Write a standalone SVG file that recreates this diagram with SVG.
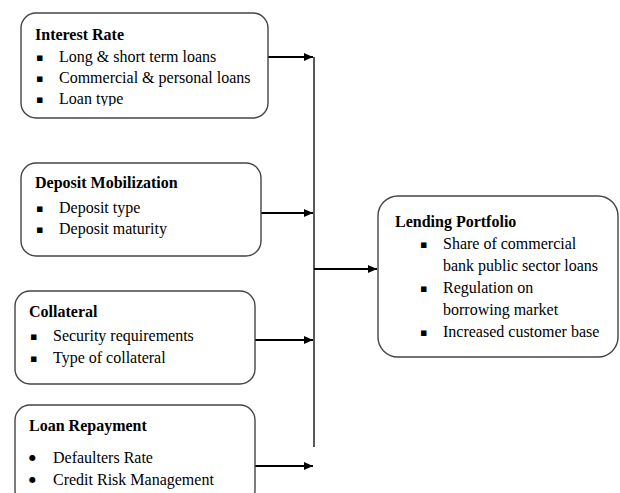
<svg xmlns="http://www.w3.org/2000/svg" width="620" height="493" viewBox="0 0 620 493">
<style>
.box{fill:#fff;stroke:#444;stroke-width:1.4}
.t{font-family:"Liberation Serif","Times New Roman",serif;font-size:16px;fill:#000}
.b{font-weight:bold}
.sq{font-family:"DejaVu Sans",sans-serif;font-size:11px;fill:#000}
.dot{font-family:"DejaVu Sans",sans-serif;font-size:8px;fill:#000}
.ln{stroke:#000;stroke-width:1.3;fill:none}
.ar{stroke:#000;stroke-width:2.2;fill:none}
</style>
<defs>
<marker id="ah" markerWidth="10" markerHeight="10" refX="9" refY="4" orient="auto" markerUnits="userSpaceOnUse">
<path d="M0,0 L9,4 L0,8 Z" fill="#000"/>
</marker>
<clipPath id="c1"><rect x="20" y="12" width="250" height="94"/></clipPath>
</defs>
<rect width="620" height="493" fill="#fff"/>
<g id="connectors">
<line class="ln" x1="314" y1="57" x2="314" y2="447"/>
<line class="ar" x1="268" y1="57" x2="313" y2="57" marker-end="url(#ah)"/>
<line class="ar" x1="261" y1="213" x2="313" y2="213" marker-end="url(#ah)"/>
<line class="ar" x1="255" y1="340" x2="313" y2="340" marker-end="url(#ah)"/>
<line class="ar" x1="255" y1="466" x2="313" y2="466" marker-end="url(#ah)"/>
<line class="ar" x1="314" y1="269" x2="377" y2="269" marker-end="url(#ah)"/>
</g>
<g id="interest-rate">
<rect class="box" x="21" y="13" width="247" height="105" rx="15"/>
<text class="t b" x="35" y="40">Interest Rate</text>
<g clip-path="url(#c1)">
<text class="sq" x="36" y="61">▪</text><text class="t" x="59" y="62">Long &amp; short term loans</text>
<text class="sq" x="36" y="82">▪</text><text class="t" x="59" y="83">Commercial &amp; personal loans</text>
<text class="sq" x="36" y="103">▪</text><text class="t" x="59" y="104">Loan type</text>
</g>
</g>
<g id="deposit-mobilization">
<rect class="box" x="21" y="163" width="240" height="93" rx="15"/>
<text class="t b" x="35" y="188">Deposit Mobilization</text>
<text class="sq" x="36" y="212">▪</text><text class="t" x="59" y="213">Deposit type</text>
<text class="sq" x="36" y="233">▪</text><text class="t" x="59" y="234">Deposit maturity</text>
</g>
<g id="collateral">
<rect class="box" x="15" y="291" width="240" height="93" rx="15"/>
<text class="t b" x="29" y="317">Collateral</text>
<text class="sq" x="30" y="340">▪</text><text class="t" x="53" y="341">Security requirements</text>
<text class="sq" x="30" y="362">▪</text><text class="t" x="53" y="363">Type of collateral</text>
</g>
<g id="loan-repayment">
<rect class="box" x="15" y="405" width="240" height="100" rx="15"/>
<text class="t b" x="29" y="431">Loan Repayment</text>
<text class="dot" x="29" y="460">●</text><text class="t" x="53" y="463">Defaulters Rate</text>
<text class="dot" x="29" y="482">●</text><text class="t" x="53" y="485">Credit Risk Management</text>
</g>
<g id="lending-portfolio">
<rect class="box" x="378" y="196" width="240" height="161" rx="20"/>
<text class="t b" x="395" y="227">Lending Portfolio</text>
<text class="sq" x="420" y="248">▪</text><text class="t" x="443" y="249">Share of commercial</text>
<text class="t" x="443" y="271">bank public sector loans</text>
<text class="sq" x="420" y="292">▪</text><text class="t" x="443" y="293">Regulation on</text>
<text class="t" x="443" y="315">borrowing market</text>
<text class="sq" x="420" y="336">▪</text><text class="t" x="443" y="337">Increased customer base</text>
</g>
</svg>
